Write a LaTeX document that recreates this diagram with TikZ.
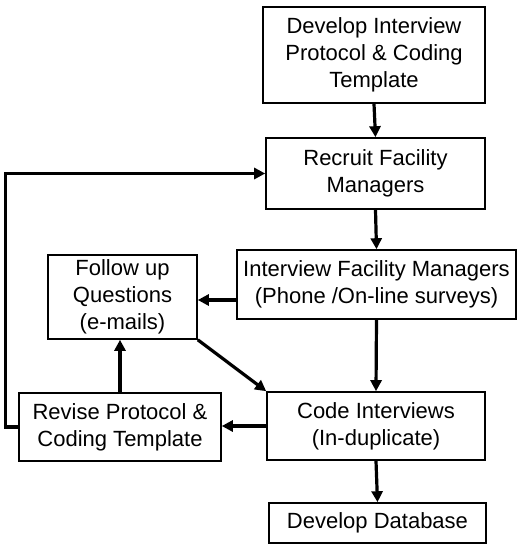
\documentclass[tikz,border=0pt]{standalone}
\usepackage{fontspec}
\setmainfont{Liberation Sans}
\usetikzlibrary{arrows.meta,calc}
\begin{document}
\begin{tikzpicture}[x=1pt,y=-1pt,
  box/.style={draw,line width=1.6pt,rectangle,align=center,inner sep=0pt,
    font=\fontsize{22}{27}\selectfont},
  arr/.style={line width=3.2pt,-{Triangle[length=11pt,width=11pt]}}]
\useasboundingbox (0,0) rectangle (530,550);
\node[box,minimum width=222pt,minimum height=96pt] (b1) at (374,55) {Develop Interview\\Protocol \& Coding\\Template};
\node[box,minimum width=219pt,minimum height=71pt] (b2) at (375.5,173.5) {Recruit Facility\\Managers};
\node[box,minimum width=279pt,minimum height=69pt] (b3) at (376.5,284.5) {Interview Facility Managers\\(Phone /On-line surveys)};
\node[box,minimum width=149pt,minimum height=84pt] (b4) at (122.5,297) {Follow up\\Questions\\(e-mails)};
\node[box,minimum width=218pt,minimum height=68pt] (b5) at (376,426) {Code Interviews\\(In-duplicate)};
\node[box,minimum width=202pt,minimum height=68pt] (b6) at (120,427) {Revise Protocol \&\\Coding Template};
\node[box,minimum width=217pt,minimum height=40pt] (b7) at (377.5,523) {Develop Database};
\draw[arr] (b1.south) -- (b2.north);
\draw[arr] (b2.south) -- (b3.north);
\draw[arr] ([yshift=-15.5pt]b3.west) -- ([yshift=-15.5pt]b3.west -| b4.east);
\draw[arr] (b3.south) -- (b5.north);
\draw[arr] (b4.south east) -- (b5.north west);
\draw[arr] (b5.west) -- (b5.west -| b6.east);
\draw[arr] (b6.north) -- (b6.north |- b4.south);
\draw[arr] (b5.south) -- (b7.north);
\draw[arr] (b6.west) -- ++(-13,0) |- (b2.west);
\end{tikzpicture}
\end{document}
